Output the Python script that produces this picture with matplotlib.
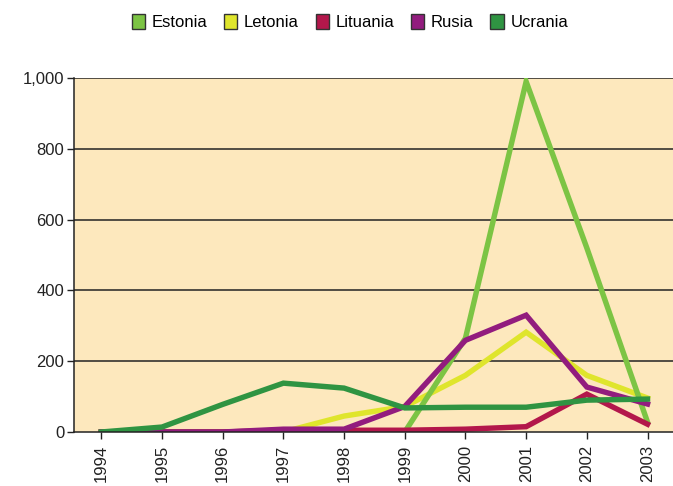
import matplotlib
matplotlib.use("Agg")
import matplotlib.pyplot as plt
from matplotlib.ticker import FuncFormatter
from matplotlib.patches import Patch

plt.rcParams['font.family'] = ['Liberation Sans', 'DejaVu Sans']

years = [1994, 1995, 1996, 1997, 1998, 1999, 2000, 2001, 2002, 2003]
estonia = [0, 0, 0, 0, 0, 0, 265, 990, 520, 28]
letonia = [0, 0, 0, 0, 45, 72, 160, 282, 160, 96]
lituania = [0, 0, 0, 5, 5, 5, 8, 15, 107, 22]
rusia = [0, 0, 0, 8, 8, 72, 259, 330, 127, 79]
ucrania = [0, 14, 78, 138, 124, 68, 70, 70, 90, 93]

series_names = ["Estonia", "Letonia", "Lituania", "Rusia", "Ucrania"]
series_values = [estonia, letonia, lituania, rusia, ucrania]
colors = ["#7cc444", "#dfe52c", "#b3174b", "#921c7e", "#2f9442"]
y_ticks = [0, 200, 400, 600, 800, 1000]

fig = plt.figure(figsize=(6.73, 4.86), dpi=100)
ax = fig.add_axes([74 / 673, 1 - 432 / 486, (673 - 74) / 673, (432 - 78) / 486])
ax.set_facecolor("#fde8bd")

zorders = [3, 2, 4, 5, 6]
for name, vals, c, z in zip(series_names, series_values, colors, zorders):
    ax.plot(years, vals, color=c, lw=3.9, solid_joinstyle="miter", zorder=z)

ax.set_xlim(1993.55, 2003.42)
ax.set_ylim(0, 1000)
ax.set_yticks(y_ticks)
ax.yaxis.set_major_formatter(FuncFormatter(lambda v, p: f"{int(v):,}"))
ax.set_xticks(years)
ax.set_xticklabels([str(y) for y in years], rotation=90)
for y in y_ticks[1:]:
    ax.axhline(y, color="#222222", lw=1.1, zorder=1)
ax.tick_params(axis="both", direction="out", length=5, width=1, colors="#222222",
               labelsize=12, labelcolor="#222222")
ax.tick_params(axis="x", pad=4)
ax.tick_params(axis="y", pad=2)
for s in ["top", "right"]:
    ax.spines[s].set_visible(False)
for s in ["left", "bottom"]:
    ax.spines[s].set_color("#222222")
    ax.spines[s].set_linewidth(1.1)
ax.spines["left"].set_zorder(7)
ax.spines["bottom"].set_zorder(7)

handles = [Patch(facecolor=c, edgecolor="#333333", lw=1.0) for c in colors]
fig.legend(handles, series_names, loc="center", bbox_to_anchor=(0.52, 1 - 22 / 486),
           ncol=5, frameon=False, fontsize=12, handlelength=0.8, handleheight=1.0,
           handletextpad=0.4, columnspacing=1.0)

fig.savefig("out.png", dpi=100)
